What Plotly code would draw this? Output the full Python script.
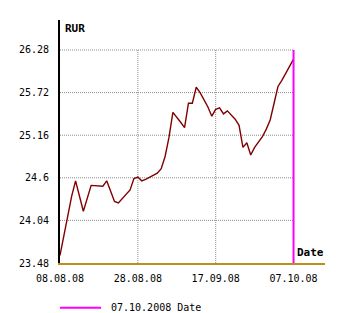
import plotly.graph_objects as go
from datetime import datetime, timedelta

# ---- data ----
dates = ["2008-08-08", "2008-08-09", "2008-08-10", "2008-08-11", "2008-08-12",
         "2008-08-14", "2008-08-16", "2008-08-19", "2008-08-20", "2008-08-22",
         "2008-08-23", "2008-08-26", "2008-08-27", "2008-08-28", "2008-08-29",
         "2008-08-30", "2008-09-02", "2008-09-03", "2008-09-04", "2008-09-05",
         "2008-09-06", "2008-09-07", "2008-09-08", "2008-09-09", "2008-09-10",
         "2008-09-11", "2008-09-12", "2008-09-13", "2008-09-14", "2008-09-15",
         "2008-09-16", "2008-09-17", "2008-09-18", "2008-09-19", "2008-09-20",
         "2008-09-21", "2008-09-22", "2008-09-23", "2008-09-24", "2008-09-25",
         "2008-09-26", "2008-09-27", "2008-09-28", "2008-09-29", "2008-09-30",
         "2008-10-01", "2008-10-02", "2008-10-03", "2008-10-04", "2008-10-05",
         "2008-10-06", "2008-10-07"]
rur = [23.58, 23.84, 24.14, 24.36, 24.56,
       24.16, 24.50, 24.49, 24.56, 24.29,
       24.27, 24.44, 24.59, 24.61, 24.56,
       24.58, 24.66, 24.72, 24.88, 25.13,
       25.46, 25.40, 25.33, 25.26, 25.58,
       25.58, 25.79, 25.72, 25.63, 25.53,
       25.41, 25.50, 25.52, 25.44, 25.48,
       25.43, 25.37, 25.29, 25.00, 25.06,
       24.90, 25.00, 25.07, 25.14, 25.24,
       25.36, 25.58, 25.80, 25.88, 25.97,
       26.06, 26.16]

y_ticks = [23.48, 24.04, 24.6, 25.16, 25.72, 26.28]
y_tick_text = ["23.48", "24.04", "24.6", "25.16", "25.72", "26.28"]
x_ticks = ["2008-08-08", "2008-08-28", "2008-09-17", "2008-10-07"]
x_tick_text = ["08.08.08", "28.08.08", "17.09.08", "07.10.08"]
marker_date = "2008-10-07"
marker_name = "07.10.2008 Date"

FONT = "DejaVu Sans Mono"
MAGENTA = "#FF00FF"
GRID = "#8C8C8C"

x_start = x_ticks[0]
x_end = (datetime.fromisoformat(x_ticks[-1]) + timedelta(days=8, hours=2)).isoformat()
y_min = y_ticks[0]
y_top = y_ticks[-1] + 0.394

fig = go.Figure()

# grid lines (bounded by first/last tick)
shapes = []
for yv in y_ticks[1:]:
    shapes.append(dict(type="line", xref="x", yref="y", x0=x_ticks[0], x1=x_ticks[-1],
                       y0=yv, y1=yv, line=dict(color=GRID, width=1, dash="1px,1px"),
                       layer="below"))
for xv in x_ticks[1:]:
    shapes.append(dict(type="line", xref="x", yref="y", x0=xv, x1=xv,
                       y0=y_ticks[0], y1=y_ticks[-1],
                       line=dict(color=GRID, width=1, dash="1px,1px"), layer="below"))

# legend key (drawn below the plot, outside the plotting area)
LEG_Y = -0.184
shapes.append(dict(type="line", xref="paper", yref="paper", x0=0.0, x1=0.155,
                   y0=LEG_Y, y1=LEG_Y, line=dict(color=MAGENTA, width=2)))

fig.add_trace(go.Scatter(x=dates, y=rur, mode="lines",
                         line=dict(color="#800000", width=1.4),
                         showlegend=False, hoverinfo="x+y"))
fig.add_trace(go.Scatter(x=[marker_date, marker_date], y=[y_ticks[0], y_ticks[-1]],
                         mode="lines", line=dict(color=MAGENTA, width=2),
                         name=marker_name, showlegend=False))

fig.update_layout(
    width=344, height=313,
    margin=dict(l=60, r=19, t=20, b=50, pad=0),
    paper_bgcolor="white", plot_bgcolor="white",
    font=dict(family=FONT, size=10, color="black"),
    shapes=shapes,
    showlegend=False,
    xaxis=dict(type="date", range=[x_start, x_end], tickvals=x_ticks, ticktext=x_tick_text,
               showgrid=False, zeroline=False, showline=True, linecolor="#B8901A", linewidth=2,
               ticks="outside", ticklen=5, tickcolor="rgba(0,0,0,0)",
               tickfont=dict(family=FONT, size=10)),
    yaxis=dict(range=[y_min, y_top], tickvals=y_ticks, ticktext=y_tick_text,
               showgrid=False, zeroline=False, showline=True, linecolor="black", linewidth=2,
               ticks="outside", ticklen=7, tickcolor="rgba(0,0,0,0)",
               tickfont=dict(family=FONT, size=10)),
    annotations=[
        dict(text="<b>RUR</b>", xref="paper", yref="paper", x=0, y=1, xanchor="left",
             yanchor="top", xshift=3, yshift=0, showarrow=False,
             font=dict(family=FONT, size=11, color="black")),
        dict(text="<b>Date</b>", xref="paper", yref="paper", x=1, y=0, xanchor="right",
             yanchor="bottom", xshift=1, yshift=2, showarrow=False,
             font=dict(family=FONT, size=11, color="black")),
        dict(text=marker_name, xref="paper", yref="paper", x=0.185, y=LEG_Y,
             xanchor="left", yanchor="middle", showarrow=False,
             font=dict(family=FONT, size=10, color="black")),
    ],
)

fig.write_html("out.html")
